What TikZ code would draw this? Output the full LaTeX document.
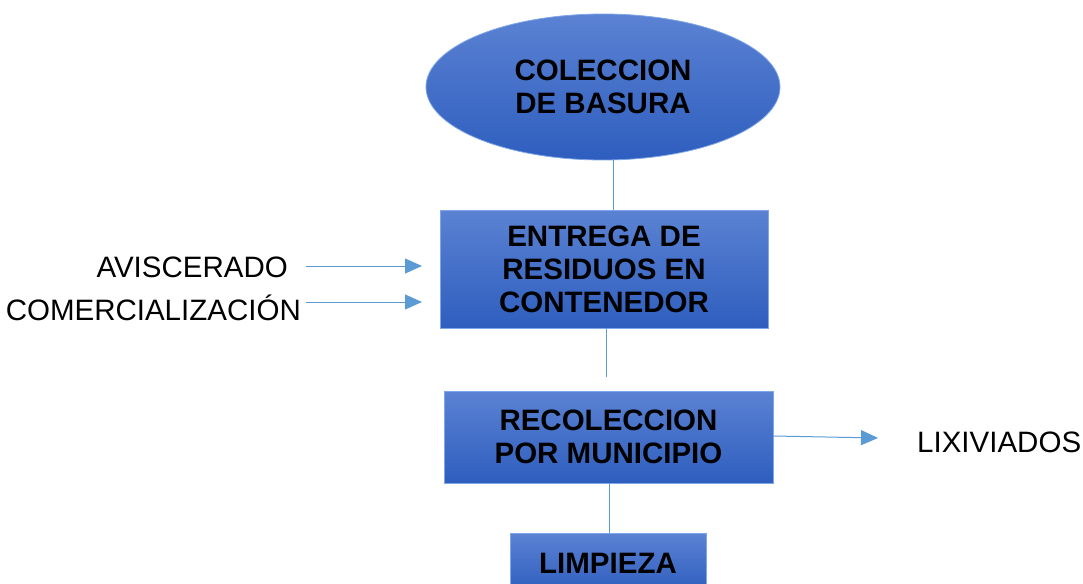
\documentclass[tikz,border=0pt]{standalone}
\usepackage{fontspec}
\setmainfont{Liberation Sans}
\usetikzlibrary{shapes.geometric,arrows.meta}
\definecolor{boxtop}{HTML}{5B82D3}
\definecolor{boxbot}{HTML}{2E5EBE}
\definecolor{boxline}{HTML}{7FA6E6}
\definecolor{conn}{HTML}{5B9BD5}
\tikzset{
  x=1pt, y=-1pt,
  bigfont/.style={font=\fontsize{29.5}{33}\selectfont},
  stepbox/.style={draw=boxline, line width=0.8pt, top color=boxtop, bottom color=boxbot,
     inner sep=0pt, align=center, font=\fontsize{29.5}{33}\selectfont\bfseries},
  oval/.style={stepbox, ellipse},
  lbl/.style={inner sep=0pt, bigfont},
  link/.style={draw=conn, line width=1pt},
  arr/.style={link, -{Triangle[length=17pt,width=15pt]}},
}
\begin{document}
\begin{tikzpicture}
\useasboundingbox (0,0) rectangle (1083,583);
\node[oval, minimum width=354pt, minimum height=146pt] (col) at (603,87) {COLECCION\\DE BASURA};
\node[stepbox, minimum width=328pt, minimum height=118pt] (ent) at (604,269) {ENTREGA DE\\RESIDUOS EN\\CONTENEDOR};
\node[stepbox, minimum width=329pt, minimum height=92pt] (rec) at (608.5,437) {RECOLECCION\\POR MUNICIPIO};
\node[stepbox, minimum width=196pt, minimum height=60pt] (lim) at (608,563) {LIMPIEZA};
\node[lbl, anchor=base east] (avi) at (288,277) {AVISCERADO};
\node[lbl, anchor=base east] (com) at (301,320) {COMERCIALIZACIÓN};
\node[lbl, anchor=base west] (lix) at (917,452) {LIXIVIADOS};
\coordinate (gap) at (606,377);
\coordinate (lixend) at (878,438);
\coordinate (avie) at (422,266);
\coordinate (come) at (422,302);
\draw[link] (col.south -| 613,0) -- (ent.north -| 613,0);
\draw[link] (ent.south -| gap) -- (gap);
\draw[link] (rec.south -| 609,0) -- (lim.north -| 609,0);
\draw[arr] (avi.east |- avie) ++(18,0) -- (avie);
\draw[arr] (com.east |- come) ++(5,0) -- (come);
\draw[arr] (rec.east |- 0,436) -- (lixend);
\end{tikzpicture}
\end{document}
